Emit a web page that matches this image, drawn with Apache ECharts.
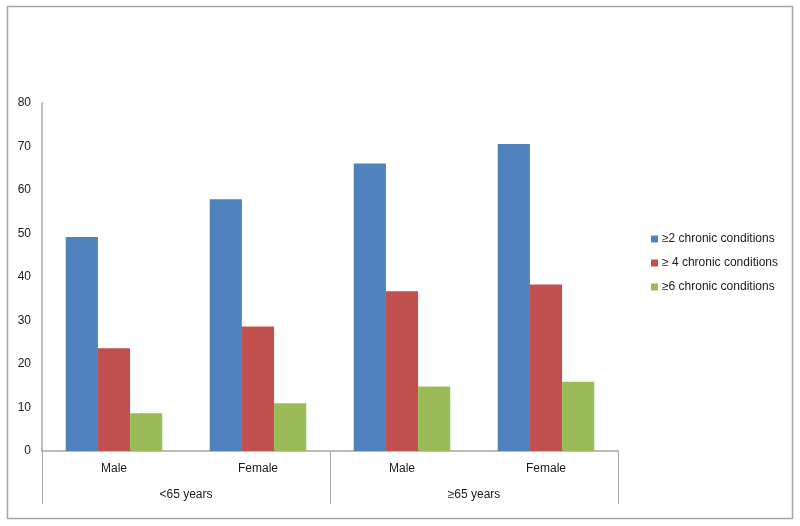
<!DOCTYPE html>
<html>
<head>
<meta charset="utf-8">
<script src="https://cdn.jsdelivr.net/npm/echarts@6/dist/echarts.min.js"></script>
<style>
html,body{margin:0;padding:0;background:#fff;}
#chart{width:800px;height:526px;}
</style>
</head>
<body>
<div id="chart"></div>
<script>
var subCategories = ['Male', 'Female', 'Male', 'Female'];
var groupCategories = ['<65 years', '≥65 years'];
var seriesNames = ['≥2 chronic conditions', '≥ 4 chronic conditions', '≥6 chronic conditions'];
var values2 = [49.2, 57.9, 66.1, 70.6];
var values4 = [23.6, 28.6, 36.7, 38.3];
var values6 = [8.7, 11.0, 14.8, 15.9];
var yTicks = [0, 10, 20, 30, 40, 50, 60, 70, 80];

var colors = ['#4F81BD', '#C0504D', '#9BBB59'];
var font = 'Liberation Sans, Arial, sans-serif';

var chart = echarts.init(document.getElementById('chart'), null, {renderer: 'canvas'});
chart.setOption({
  animation: false,
  backgroundColor: '#fff',
  color: colors,
  textStyle: {fontFamily: font},
  graphic: [{
    type: 'rect',
    shape: {x: 7.5, y: 6.5, width: 785, height: 512},
    style: {fill: 'none', stroke: '#a6a6a6', lineWidth: 1.5},
    silent: true
  }],
  legend: {
    orient: 'vertical',
    left: 646,
    top: 228,
    icon: 'rect',
    itemWidth: 7,
    itemHeight: 7,
    itemGap: 12,
    textStyle: {fontSize: 12, color: '#1a1a1a', fontFamily: font, padding: [0, 0, 0, -1]},
    data: seriesNames
  },
  grid: {left: 42, right: 182, top: 103, bottom: 75, containLabel: false},
  xAxis: [{
    type: 'category',
    data: subCategories,
    position: 'bottom',
    axisLine: {show: true, lineStyle: {color: '#a6a6a6', width: 1.5}},
    axisTick: {show: false},
    axisLabel: {fontSize: 12, color: '#1a1a1a', margin: 12, fontFamily: font}
  }, {
    type: 'category',
    data: groupCategories,
    position: 'bottom',
    axisLine: {show: false},
    axisTick: {show: true, length: 53, interval: 0, lineStyle: {color: '#a6a6a6', width: 1}},
    axisLabel: {fontSize: 12, color: '#1a1a1a', margin: 38, fontFamily: font}
  }],
  yAxis: {
    type: 'value',
    min: yTicks[0],
    max: yTicks[yTicks.length - 1],
    interval: 10,
    axisLine: {show: true, lineStyle: {color: '#a6a6a6', width: 1.5}},
    axisTick: {show: false},
    splitLine: {show: false},
    axisLabel: {fontSize: 12, color: '#1a1a1a', margin: 11, fontFamily: font}
  },
  series: [
    {name: seriesNames[0], type: 'bar', data: values2, barGap: '0%', barCategoryGap: '33%'},
    {name: seriesNames[1], type: 'bar', data: values4, barGap: '0%', barCategoryGap: '33%'},
    {name: seriesNames[2], type: 'bar', data: values6, barGap: '0%', barCategoryGap: '33%'}
  ]
});
</script>
</body>
</html>
